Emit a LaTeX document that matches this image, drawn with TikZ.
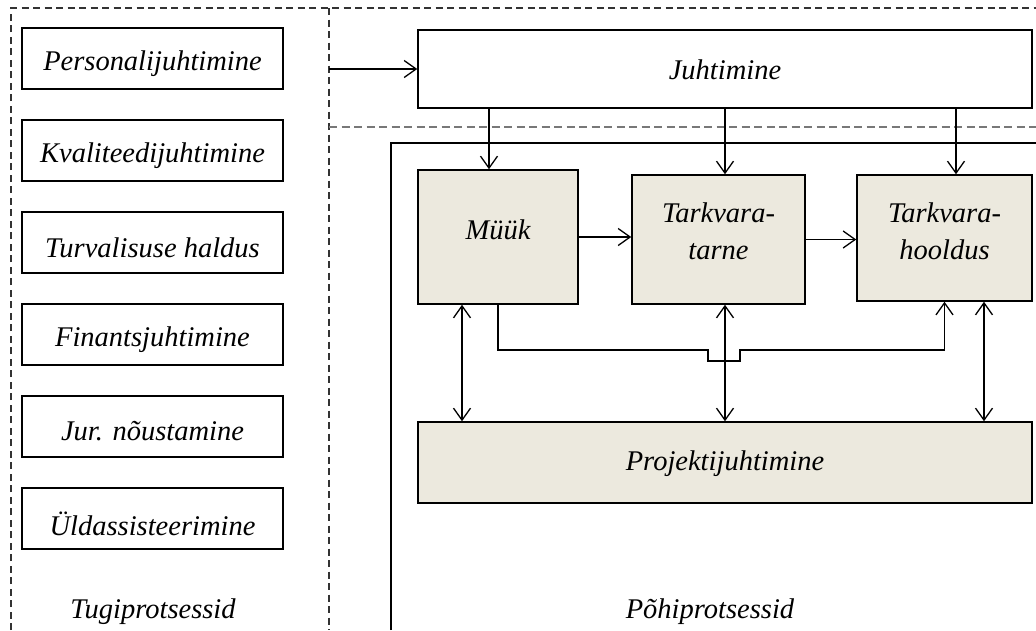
\documentclass[tikz,border=0pt]{standalone}
\usepackage{fontspec}
\setmainfont{Liberation Serif}
\usetikzlibrary{arrows.meta}
\definecolor{procfill}{RGB}{236,233,222}
\definecolor{dashgray}{RGB}{120,120,120}
\begin{document}
\begin{tikzpicture}[x=1pt,y=-1pt,
  lbl/.style={font=\fontsize{28.5}{37}\selectfont\itshape, align=center, inner sep=0pt},
  plainbox/.style={draw, line width=1.5pt, rectangle, inner sep=0pt},
  procbox/.style={plainbox, fill=procfill},
  tip/.style={Straight Barb[length=12pt,width=17pt,line width=1.3pt]},
  arr/.style={line width=1.3pt, -{Straight Barb[length=12pt,width=17pt,line width=1.3pt]}},
  biarr/.style={line width=1.3pt, {Straight Barb[length=12pt,width=17pt,line width=1.3pt]}-{Straight Barb[length=12pt,width=17pt,line width=1.3pt]}},
  frame/.style={line width=1.6pt, dash pattern=on 7pt off 4.5pt, draw=black!80},
]
\useasboundingbox (0,0) rectangle (1036,630);

% frames
\draw[frame] (11,630) -- (11,8) -- (1036,8);
\draw[frame] (329,8) -- (329,630);
\draw[line width=2pt, dash pattern=on 8pt off 4.5pt, draw=dashgray] (329,127) -- (1036,127);
\draw[line width=1.5pt] (391,630) -- (391,143) -- (1036,143);

% support processes
\tikzset{sbox/.style={plainbox, minimum width=261pt, minimum height=61pt,
  label={[lbl, yshift=-5pt]center:#1}}}
\node[sbox=Personalijuhtimine] (pers) at (152.5,58.5) {};
\node[sbox=Kvaliteedijuhtimine] (kval) at (152.5,150.5) {};
\node[sbox=Turvalisuse haldus] (turv) at (152.5,242.5) {};
\node[sbox=Finantsjuhtimine] (fin) at (152.5,334.5) {};
\node[sbox=Jur. nõustamine] (jur) at (152.5,426.5) {};
\node[sbox=Üldassisteerimine] (yld) at (152.5,518.5) {};
\node[lbl] (tugi) at (153,612) {Tugiprotsessid};

% management
\node[plainbox, minimum width=614pt, minimum height=78pt,
  label={[lbl, yshift=-1pt]center:Juhtimine}] (juh) at (725,69) {};
\coordinate (jin) at (329,69);
\draw[arr] (jin) -- (juh.west);

% core processes
\node[procbox, minimum width=160pt, minimum height=134pt,
  label={[lbl, yshift=7pt]center:Müük}] (muuk) at (498,237) {};
\node[procbox, minimum width=173pt, minimum height=129pt,
  label={[lbl, yshift=8pt]center:Tarkvara-\\tarne}] (tarne) at (718.5,239.5) {};
\node[procbox, minimum width=175pt, minimum height=126pt,
  label={[lbl, yshift=7pt]center:Tarkvara-\\hooldus}] (hool) at (944.5,238) {};
\node[procbox, minimum width=614pt, minimum height=81pt,
  label={[lbl, yshift=-1pt]center:Projektijuhtimine}] (proj) at (725,462.5) {};
\node[lbl] (pohi) at (710,612) {Põhiprotsessid};

% management to core
\draw[arr] ([xshift=-9pt]muuk.north |- juh.south) -- ([xshift=-9pt]muuk.north);
\draw[arr] ([xshift=6.5pt]tarne.north |- juh.south) -- ([xshift=6.5pt]tarne.north);
\draw[arr] ([xshift=11.5pt]hool.north |- juh.south) -- ([xshift=11.5pt]hool.north);

% chain
\draw[arr] (muuk.east) -- (muuk.east -| tarne.west);
\draw[arr] (tarne.east) -- (tarne.east -| hool.west);

% project management links
\draw[biarr] ([xshift=-36pt]muuk.south) -- ([xshift=-36pt]muuk.south |- proj.north);
\draw[biarr] ([xshift=6.5pt]tarne.south) -- ([xshift=6.5pt]tarne.south |- proj.north);
\draw[biarr] ([xshift=39.5pt]hool.south) -- ([xshift=39.5pt]hool.south |- proj.north);

% bypass from sales to maintenance, jumping over the middle link
\draw[arr] (muuk.south) |- (708,350) -- (708,361) -- (740,361) -- (740,350) -| (hool.south);
\end{tikzpicture}
\end{document}
